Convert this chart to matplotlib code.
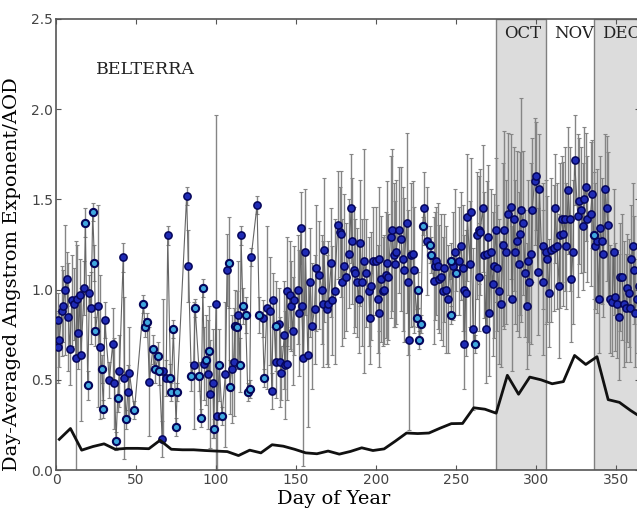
import numpy as np
import matplotlib
matplotlib.use('Agg')
import matplotlib.pyplot as plt

# day-averaged angstrom exponent
day = [1, 1.5, 2, 3.7, 4.5, 5.6, 6.7, 7.7, 8.7, 9.8, 11, 12.6, 12.9, 14, 14.9, 15.5,
       17.7, 18.3, 19.8, 20.8, 21.9, 22.9, 24, 24.6, 26.4, 27.5, 28.5, 29.6, 30.4, 33.3,
       35.4, 36.5, 37.5, 38.5, 39.6, 42, 42.7, 43.7, 44.8, 45.8, 49, 54.6, 55.6, 57, 58.3,
       60.4, 62, 64, 64.5, 66.3, 66.6, 68.8, 69.8, 71.5, 72, 73.3, 75, 75.6, 81.6, 82.7,
       84.5, 86, 86.9, 89.6, 90.6, 91.7, 92.7, 93.7, 94.9, 95.5, 96.5, 98, 98.6, 100,
       100.6, 102, 103.7, 105.8, 106.9, 108, 108.4, 109.8, 110.9, 112, 113, 113.6, 115,
       115.6, 116.7, 118.4, 119.8, 121, 121.9, 125.6, 127, 129, 130, 131.8, 133.7, 134.8,
       135.8, 137.2, 137.5, 139.6, 140.2, 140.6, 142.7, 142.9, 144, 144.4, 146, 146.5, 148,
       148.5, 151, 152, 153, 153.5, 154.6, 155.8, 157.3, 158.7, 160, 161.5, 162.5, 164.6,
       166, 166.6, 167.3, 169, 170, 172, 172.5, 174, 176, 177.5, 178.2, 178.7, 180, 181,
       183, 184.4, 185, 186, 186.5, 188, 189.3, 190, 191, 192.7, 193.8, 195.5, 196, 197,
       198, 200, 201, 201.5, 202, 203, 204, 205, 206, 207, 207.5, 209, 210, 211, 212,
       212.5, 214, 215.5, 216.5, 217.5, 219, 220, 220.5, 221.6, 223, 223.5, 225.4, 226,
       227, 228, 229, 230, 232, 233.5, 234.6, 236, 236.6, 237.5, 238.5, 239, 240.6, 241.7,
       242.7, 243.8, 244.8, 246.5, 247, 248, 249, 250, 251.8, 253, 254, 254.6, 255.2, 256,
       257, 258.6, 259, 260.6, 261.8, 262.8, 264, 264.4, 265, 266.6, 267.5, 268.5, 269.5,
       270, 270.8, 271.8, 272.8, 273.8, 274.8, 275.8, 276.8, 277.8, 279.5, 280, 281, 282.5,
       284, 285, 286, 287, 288, 289, 289.7, 290.5, 291.8, 293.2, 294, 295, 295.8, 296.8,
       297.5, 299, 300, 301, 302, 304, 304.5, 306, 307, 308, 309, 311, 312, 313, 314.4,
       314.8, 316, 317, 318, 318.8, 320, 321, 322, 323, 324, 326, 327, 328, 329, 330, 331,
       332, 334, 335, 336, 337, 338, 339, 340, 341, 342, 343, 344, 345, 346, 347.5, 348.5,
       349, 350.5, 351.5, 352.5, 353.5, 355, 356, 356.5, 358, 358.6, 359.5, 360.5, 361,
       361.6, 363, 364]
aae = [0.83, 0.68, 0.72, 0.88, 0.91, 1.00, 1.06, 0.85, 0.67, 0.94, 0.92, 0.62, 0.95, 0.76, 0.97, 0.64,
       1.01, 1.37, 0.47, 0.98, 0.90, 1.43, 1.15, 0.77, 0.91, 0.68, 0.56, 0.34, 0.83, 0.50,
       0.70, 0.48, 0.16, 0.40, 0.55, 1.18, 0.51, 0.28, 0.43, 0.54, 0.33, 0.92, 0.79, 0.82, 0.49,
       0.67, 0.56, 0.63, 0.55, 0.17, 0.55, 0.51, 1.30, 0.51, 0.43, 0.78, 0.24, 0.43, 1.52, 1.13,
       0.52, 0.58, 0.90, 0.52, 0.29, 1.01, 0.59, 0.61, 0.53, 0.66, 0.42, 0.48, 0.23, 0.92,
       0.30, 0.58, 0.30, 0.53, 1.11, 1.15, 0.46, 0.56, 0.60, 0.80, 0.79, 0.86, 0.58,
       1.30, 0.91, 0.86, 0.43, 0.45, 1.18, 1.47, 0.86, 0.84, 0.51, 0.90, 0.88, 0.44,
       0.94, 0.60, 0.80, 0.81, 0.60, 0.54, 0.75, 0.58, 0.99, 0.59, 0.97, 0.91, 0.77,
       0.94, 1.00, 0.87, 1.34, 0.91, 0.62, 1.21, 0.64, 1.04, 0.80, 0.89, 1.12, 1.08,
       1.00, 0.92, 1.22, 0.89, 0.92, 1.15, 0.94, 0.99, 1.36, 1.32, 1.31, 1.04, 1.13, 1.07,
       1.20, 1.45, 1.27, 1.11, 1.09, 1.04, 0.95, 1.26, 1.04, 1.16, 1.09, 0.99, 0.84, 1.02,
       1.16, 1.16, 0.95, 1.17, 0.87, 1.06, 0.99, 1.00, 1.08, 1.15, 1.07, 1.29, 1.33, 1.19, 1.14,
       1.21, 1.33, 1.28, 1.17, 1.11, 1.37, 1.04, 0.72, 1.19, 1.20, 1.11, 0.84, 1.00,
       0.72, 0.81, 1.35, 1.45, 1.27, 1.25, 1.19, 1.05, 1.13, 1.16, 1.13, 1.06, 1.07, 0.99,
       1.12, 1.00, 0.95, 1.16, 0.86, 1.13, 1.21, 1.09, 1.16, 1.24, 1.12, 1.00, 0.70, 0.98,
       1.40, 1.14, 1.43, 0.78, 0.70, 1.30, 1.33, 1.07, 1.32, 1.45, 1.19, 0.78, 1.20,
       1.29, 0.87, 1.21, 1.03, 1.13, 1.33, 1.12, 0.99, 0.92, 1.25, 1.33, 1.21, 1.42,
       1.46, 0.95, 1.39, 1.21, 1.27, 1.14, 1.31, 1.44, 1.37, 1.09, 0.91, 1.16, 1.04, 1.20,
       1.44, 1.60, 1.63, 1.10, 1.56, 1.04, 1.24, 1.21, 1.17, 0.98, 1.22, 1.23, 1.45, 1.24, 1.02,
       1.30, 1.39, 1.31, 1.39, 1.24, 1.55, 1.39, 1.06, 1.21, 1.72, 1.41, 1.49, 1.44, 1.35, 1.50, 1.57,
       1.39, 1.42, 1.53, 1.30, 1.24, 1.27, 0.95, 1.34, 1.27, 1.20, 1.56, 1.45, 1.36, 0.95, 0.93, 1.21,
       0.96, 0.92, 0.85, 1.07, 1.07, 0.92, 0.90, 1.01, 0.98, 0.90, 1.17, 1.24, 1.11,
       0.87, 0.95, 1.02]
err = [0.15, 0.20, 0.15, 0.25, 0.20, 0.36, 0.15, 0.30, 0.20, 0.25, 0.20, 0.65, 0.30, 0.20, 0.20, 0.37,
       0.15, 0.08, 0.08, 0.10, 0.20, 0.05, 0.10, 0.08, 0.56, 0.40, 0.08, 0.05, 0.10, 0.10,
       0.20, 0.25, 0.05, 0.08, 0.20, 0.08, 0.45, 0.05, 0.15, 0.25, 0.05, 0.05, 0.05, 0.05, 0.30,
       0.08, 0.08, 0.08, 0.08, 0.10, 0.40, 0.10, 0.05, 0.08, 0.05, 0.05, 0.05, 0.05, 0.05, 0.20,
       0.08, 0.35, 0.05, 0.08, 0.05, 0.05, 0.20, 0.25, 0.30, 0.25, 0.30, 0.30, 0.05, 1.05,
       0.30, 0.20, 0.05, 0.40, 0.20, 0.25, 0.15, 0.30, 0.30, 0.20, 0.20, 0.30, 0.15,
       0.05, 0.10, 0.10, 0.05, 0.05, 0.05, 0.05, 0.10, 0.10, 0.05, 0.45, 0.30, 0.10,
       0.15, 0.20, 0.25, 0.20, 0.25, 0.15, 0.30, 0.30, 0.30, 0.20, 0.30, 0.25, 0.30,
       0.30, 0.30, 0.35, 0.20, 0.30, 0.60, 0.35, 0.40, 0.30, 0.35, 0.30, 0.35, 0.30,
       0.30, 0.35, 0.40, 0.30, 0.35, 0.30, 0.30, 0.40, 0.30, 0.25, 0.35, 0.35, 0.40, 0.30,
       0.30, 0.30, 0.35, 0.35, 0.30, 0.30, 0.30, 0.35, 0.35, 0.62, 0.30, 0.30, 0.25, 0.30,
       0.30, 0.30, 0.30, 0.40, 0.30, 0.35, 0.30, 0.30, 0.35, 0.45, 0.35, 0.45, 0.45, 0.40, 0.35,
       0.40, 0.35, 0.40, 0.40, 0.40, 0.50, 0.40, 0.50, 0.40, 0.40, 0.35, 0.05, 0.10,
       0.05, 0.05, 0.05, 0.20, 0.30, 0.10, 0.10, 0.35, 0.30, 0.30, 0.35, 0.30, 0.35, 0.30,
       0.30, 0.35, 0.30, 0.10, 0.05, 0.30, 0.35, 0.10, 0.30, 0.30, 0.35, 0.30, 0.25, 0.35,
       0.35, 0.35, 0.30, 0.45, 0.05, 0.35, 0.30, 0.30, 0.35, 0.35, 0.35, 0.30, 0.40,
       0.40, 0.35, 0.35, 0.40, 0.40, 0.40, 0.35, 0.40, 0.35, 0.45, 0.55, 0.40, 0.45,
       0.40, 0.40, 0.40, 0.40, 0.50, 0.40, 0.45, 0.62, 0.40, 0.35, 0.35, 0.45, 0.40, 0.50,
       0.40, 0.35, 0.30, 0.35, 0.30, 0.40, 0.35, 0.40, 0.35, 0.30, 0.40, 0.35, 0.30, 0.35, 0.40,
       0.40, 0.35, 0.40, 0.40, 0.35, 0.35, 0.40, 0.35, 0.40, 0.25, 0.45, 0.35, 0.35, 0.35, 0.40, 0.30,
       0.35, 0.40, 0.30, 0.35, 0.35, 0.40, 0.30, 0.40, 0.35, 0.35, 0.30, 0.40, 0.40, 0.30, 0.30, 0.35,
       0.30, 0.30, 0.35, 0.30, 0.35, 0.35, 0.30, 0.30, 0.30, 0.30, 0.30, 0.35, 0.30,
       0.30, 0.30, 0.30]
# points drawn with the lighter face
light_days = [18.3, 19.8, 22.9, 24, 24.6, 28.5, 29.6, 37.5, 38.5, 43.7, 49, 54.6, 55.6, 57,
              60.4, 62, 64, 64.5, 71.5, 72, 73.3, 75, 75.6, 84.5, 86.9, 89.6, 90.6, 91.7,
              93.7, 95.5, 98.6, 102, 103.7, 108, 108.4, 112, 113, 115, 116.7, 118.4, 119.8,
              121, 127, 130, 137.5, 225.4, 226, 227, 228, 229, 233.5, 234.6, 246.5, 247,
              250, 261.8, 336]

# weekly AOD (black line)
aod_day = [2, 9, 16, 23, 30, 37, 44, 51, 58, 65, 72, 79, 86, 93, 100, 107, 114, 121, 128,
           135, 142, 149, 156, 163, 170, 177, 184, 191, 198, 205, 212, 219, 226, 233, 240,
           247, 254, 261, 268, 275, 282, 289, 296, 303, 310, 317, 324, 331, 338, 345, 352,
           359, 366]
aod = [0.17, 0.23, 0.11, 0.13, 0.145, 0.115, 0.12, 0.12, 0.118, 0.165, 0.115, 0.112, 0.112,
       0.108, 0.105, 0.102, 0.08, 0.11, 0.095, 0.14, 0.132, 0.115, 0.095, 0.09, 0.105, 0.088,
       0.103, 0.123, 0.108, 0.117, 0.16, 0.205, 0.202, 0.205, 0.232, 0.257, 0.258, 0.345,
       0.337, 0.315, 0.525, 0.42, 0.515, 0.5, 0.478, 0.49, 0.635, 0.585, 0.628, 0.39, 0.375,
       0.33, 0.29]

months = [('OCT', 275, 306), ('NOV', 306, 336), ('DEC', 336, 366)]

day = np.array(day)
aae = np.array(aae)
err = np.array(err)
is_light = np.isin(day, light_days)

fig = plt.figure(figsize=(6.37, 5.08), dpi=100)
ax = fig.add_axes([0.088, 0.0748, 0.917, 0.8878])

# shaded months
for name, d0, d1 in months:
    if name != 'NOV':
        ax.axvspan(d0, d1, facecolor='#dcdcdc', edgecolor='#808080', lw=1.0, zorder=0)
for name, d0, d1 in months:
    ax.text(d0 + 5, 2.42, name, family='DejaVu Serif', fontsize=12, va='center', color='#222222')

ax.errorbar(day, aae, yerr=err, fmt='none', ecolor='#858585', elinewidth=1.0,
            capsize=1.5, capthick=0.8, zorder=1)
ax.plot(day, aae, color='#666666', lw=0.8, zorder=2)
ax.plot(day[~is_light], aae[~is_light], 'o', ms=5.2, mfc='#1f2bb5', mec='#05055a', mew=1.1, zorder=3)
ax.plot(day[is_light], aae[is_light], 'o', ms=5.2, mfc='#3fa7df', mec='#05055a', mew=1.5, zorder=3)
ax.plot(aod_day, aod, color='#111111', lw=2.0, zorder=4)

ax.text(25, 2.22, 'BELTERRA', family='DejaVu Serif', fontsize=12.5, va='center', color='#222222')

ax.set_xlim(0, 365)
ax.set_ylim(0, 2.5)
ax.set_xticks(range(0, 351, 50))
ax.set_yticks([0.0, 0.5, 1.0, 1.5, 2.0, 2.5])
ax.tick_params(direction='in', top=True, right=True, labelsize=10, labelcolor='#444444',
               color='#555555', pad=2)
for s in ax.spines.values():
    s.set_color('#555555')
    s.set_linewidth(1.2)
ax.set_xlabel('Day of Year', family='DejaVu Serif', fontsize=14)
ax.set_ylabel('Day-Averaged Angstrom Exponent/AOD', family='DejaVu Serif', fontsize=14)
ax.xaxis.set_label_coords(0.475, -0.045)
ax.yaxis.set_label_coords(-0.06, 0.435)

fig.savefig('out.png', dpi=100)
